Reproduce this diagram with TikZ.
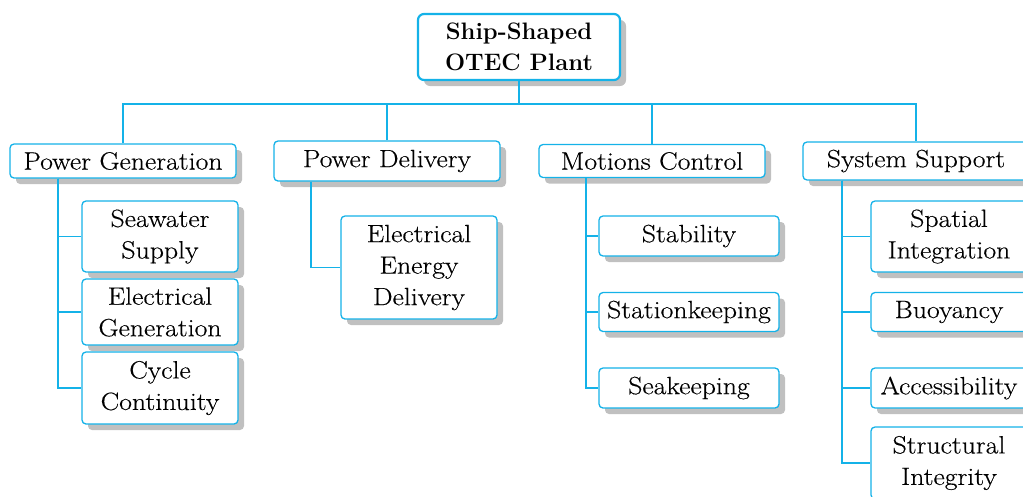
\documentclass[tikz,border=0pt]{standalone}
\usepackage{fontspec}
\setmainfont{Latin Modern Roman}[FakeStretch=1.11, FakeBold=0.35]
\newfontfamily\rootfont{Latin Modern Roman}
\usetikzlibrary{shadows}
\definecolor{lc}{RGB}{20,178,232}
\definecolor{sh}{RGB}{192,192,192}
\begin{document}
\begin{tikzpicture}[x=1pt,y=-1pt,
  box/.style={draw=lc, line width=1.3pt, fill=white, rounded corners=4pt, align=center,
    inner sep=0pt, font=\fontsize{25}{31.5}\selectfont,
    drop shadow={shadow xshift=6pt, shadow yshift=-6pt, fill=sh, opacity=1}},
  rootbox/.style={box, line width=2.2pt, rounded corners=6pt, font=\rootfont\fontsize{23.8}{31}\selectfont\bfseries},
  conn/.style={draw=lc, line width=1.1pt}]
\useasboundingbox (0,0) rectangle (1023,496);
\clip (0,0) rectangle (1023,496);
\coordinate (bus) at (519,104);
% root
\node[rootbox, minimum width=202pt, minimum height=66pt] (root) at (519,47) {Ship-Shaped\\OTEC Plant};
% level 1
\node[box, minimum width=226pt, minimum height=34pt] (pg) at (123,161) {Power Generation};
\node[box, minimum width=226pt, minimum height=40pt] (pd) at (387,161) {Power Delivery};
\node[box, minimum width=226pt, minimum height=33pt] (mc) at (652,161) {Motions Control};
\node[box, minimum width=226pt, minimum height=38pt] (ss) at (916,161) {System Support};
% level 2
\node[box, minimum width=156pt, minimum height=71pt] (sea) at (160,236.5) {Seawater\\Supply};
\node[box, minimum width=156pt, minimum height=66pt] (eg) at (160,312) {Electrical\\Generation};
\node[box, minimum width=156pt, minimum height=72pt] (cc) at (160,388) {Cycle\\Continuity};
\node[box, minimum width=156pt, minimum height=103pt] (eed) at (419,267.5) {Electrical\\Energy\\Delivery};
\node[box, minimum width=180pt, minimum height=40pt] (stab) at (689,236) {Stability};
\node[box, minimum width=180pt, minimum height=39pt] (stk) at (689,312) {Stationkeeping};
\node[box, minimum width=180pt, minimum height=40pt] (sk) at (689,388) {Seakeeping};
\node[box, minimum width=156pt, minimum height=71pt] (spi) at (949,236.5) {Spatial\\Integration};
\node[box, minimum width=156pt, minimum height=39pt] (buo) at (949,312) {Buoyancy};
\node[box, minimum width=156pt, minimum height=40pt] (acc) at (949,388) {Accessibility};
\node[box, minimum width=156pt, minimum height=72pt] (si) at (949,463) {Structural\\Integrity};
% bus
\draw[conn] (root.south) -- (root.south |- bus);
\draw[conn] (pg.north) -- (pg.north |- bus) -- (ss.north |- bus) -- (ss.north);
\draw[conn] (pd.north) -- (pd.north |- bus);
\draw[conn] (mc.north) -- (mc.north |- bus);
% branches
\draw[conn] ([xshift=-65pt]pg.south) |- (sea.west);
\draw[conn] ([xshift=-65pt]pg.south) |- (eg.west);
\draw[conn] ([xshift=-65pt]pg.south) |- (cc.west);
\draw[conn] ([xshift=-76pt]pd.south) |- (eed.west);
\draw[conn] ([xshift=-66pt]mc.south) |- (stab.west);
\draw[conn] ([xshift=-66pt]mc.south) |- (stk.west);
\draw[conn] ([xshift=-66pt]mc.south) |- (sk.west);
\draw[conn] ([xshift=-74pt]ss.south) |- (spi.west);
\draw[conn] ([xshift=-74pt]ss.south) |- (buo.west);
\draw[conn] ([xshift=-74pt]ss.south) |- (acc.west);
\draw[conn] ([xshift=-74pt]ss.south) |- (si.west);
\end{tikzpicture}
\end{document}
